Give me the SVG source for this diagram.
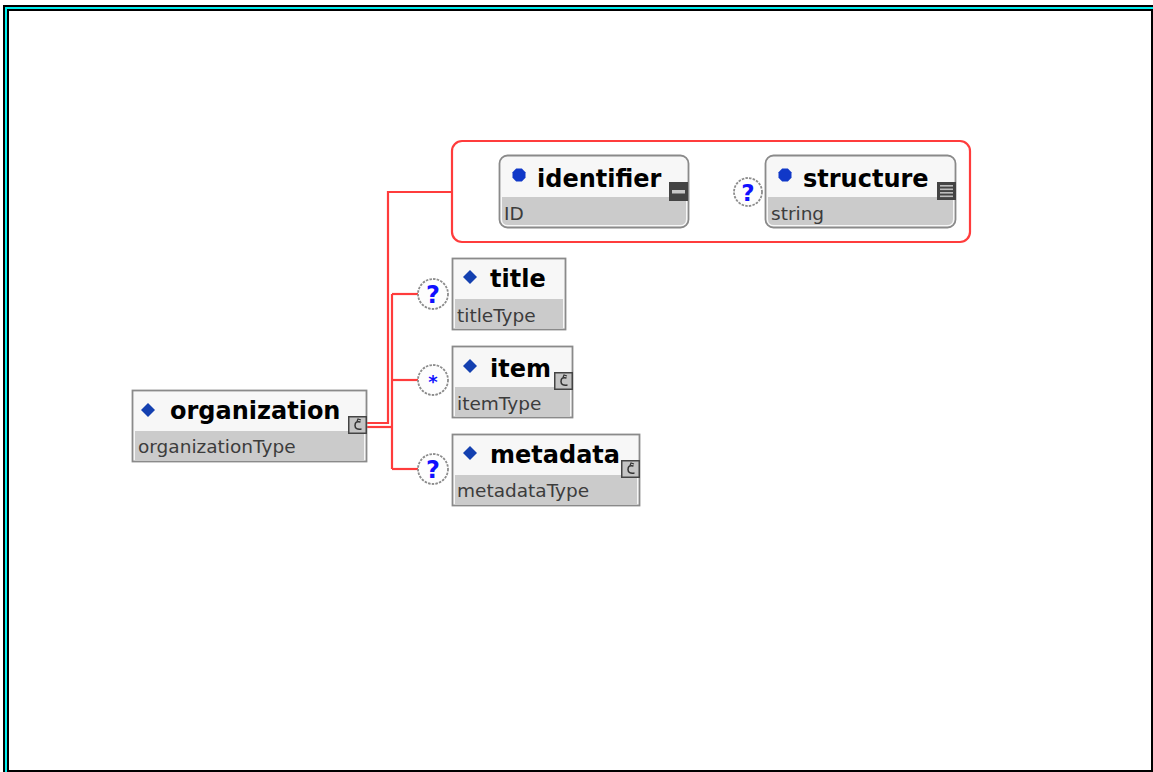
<svg xmlns="http://www.w3.org/2000/svg" xmlns:xlink="http://www.w3.org/1999/xlink" width="1153" height="772" viewBox="0 0 1153 772">
<style>
.box{fill:#f7f7f7;stroke:#8a8a8a;stroke-width:1.8}
.band{fill:#cbcbcb}
.name{font-family:"DejaVu Sans",sans-serif;font-weight:bold;font-size:24px;fill:#000}
.type{font-family:"DejaVu Sans",sans-serif;font-size:18.5px;fill:#3c3c3c}
.conn{fill:none;stroke:#ff3c3c;stroke-width:2.2}
.occ{fill:#fdfdfd;stroke:#8c8c8c;stroke-width:1.8;stroke-dasharray:2.5 1.2}
.occt{font-family:"DejaVu Sans",sans-serif;font-weight:bold;fill:#1010ff;text-anchor:middle}
</style>
<defs>
  <g id="cplx">
    <rect x="0.75" y="0.75" width="17.5" height="16.5" fill="#c4c4c4" stroke="#444" stroke-width="1.5"/>
    <path d="M12.5 6 Q7 4.5 7 9.5 Q7 14 13.5 13" fill="none" stroke="#333" stroke-width="1.5"/>
    <path d="M9 5.5 L10 3 L13 4" fill="none" stroke="#333" stroke-width="1.2"/>
  </g>
  <g id="simpleID">
    <rect x="0" y="0" width="19" height="19" fill="#444"/>
    <rect x="3" y="8" width="13" height="3.5" fill="#c8c8c8"/>
  </g>
  <g id="simpleStr">
    <rect x="0" y="0" width="19" height="18" fill="#444"/>
    <rect x="3" y="3" width="13" height="1.6" fill="#bdbdbd"/>
    <rect x="3" y="6.5" width="13" height="1.6" fill="#bdbdbd"/>
    <rect x="3" y="10" width="13" height="1.6" fill="#bdbdbd"/>
    <rect x="3" y="13.5" width="13" height="1.6" fill="#bdbdbd"/>
  </g>
  <polygon id="diamond" points="0,-7 7,0 0,7 -7,0" fill="#1440b0"/>
  <polygon id="dot" points="-2.8,-6.5 2.8,-6.5 6.5,-2.8 6.5,2.8 2.8,6.5 -2.8,6.5 -6.5,2.8 -6.5,-2.8" fill="#1038c8"/>
</defs>
<rect x="0" y="0" width="1153" height="772" fill="#fff"/>
<g id="frame" fill="none">
  <path d="M4 772 V6 H1153" stroke="#000" stroke-width="2"/>
  <path d="M6 772 V8 H1153" stroke="#00f0f0" stroke-width="2"/>
  <rect x="8" y="10" width="1144" height="761" stroke="#000" stroke-width="2"/>
</g>
<g id="connectors">
  <path class="conn" d="M367 423 H388 V192 H452"/>
  <path class="conn" d="M367 427 H392"/>
  <path class="conn" d="M392 294 V469"/>
  <path class="conn" d="M392 294 H418"/>
  <path class="conn" d="M392 380 H418"/>
  <path class="conn" d="M392 469 H418"/>
  <rect class="conn" x="452" y="141" width="518" height="101" rx="10" ry="10"/>
</g>
<g id="organization">
  <rect class="box" x="132.5" y="390.5" width="234" height="71"/>
  <rect class="band" x="135" y="431" width="229" height="29"/>
  <use xlink:href="#diamond" x="148" y="410"/>
  <text class="name" x="170" y="419">organization</text>
  <text class="type" x="138" y="453">organizationType</text>
  <use xlink:href="#cplx" x="348" y="416"/>
</g>
<g id="identifier">
  <rect class="box" x="499.5" y="155.5" width="189" height="72" rx="8" ry="8"/>
  <path class="band" d="M502 197 H686 V219 Q686 225 680 225 H508 Q502 225 502 219 Z"/>
  <use xlink:href="#dot" x="519" y="175"/>
  <text class="name" x="537" y="187">identifier</text>
  <text class="type" x="504" y="220">ID</text>
  <use xlink:href="#simpleID" x="669" y="182"/>
</g>
<g id="structure-occ">
  <circle class="occ" cx="748" cy="192" r="14"/>
  <text class="occt" x="748" y="201" font-size="23">?</text>
</g>
<g id="structure">
  <rect class="box" x="765.5" y="155.5" width="190" height="72" rx="8" ry="8"/>
  <path class="band" d="M768 197 H953 V219 Q953 225 947 225 H774 Q768 225 768 219 Z"/>
  <use xlink:href="#dot" x="785" y="175"/>
  <text class="name" x="803" y="187">structure</text>
  <text class="type" x="771" y="220">string</text>
  <use xlink:href="#simpleStr" x="937" y="182"/>
</g>
<g id="title-occ">
  <circle class="occ" cx="433" cy="294" r="15"/>
  <text class="occt" x="433" y="303" font-size="24">?</text>
</g>
<g id="title">
  <rect class="box" x="452.5" y="258.5" width="113" height="71"/>
  <rect class="band" x="455" y="299" width="108" height="29"/>
  <use xlink:href="#diamond" x="470" y="277"/>
  <text class="name" x="490" y="287">title</text>
  <text class="type" x="457" y="322">titleType</text>
</g>
<g id="item-occ">
  <circle class="occ" cx="433" cy="380" r="15"/>
  <text class="occt" x="433" y="388" font-size="18">*</text>
</g>
<g id="item">
  <rect class="box" x="452.5" y="346.5" width="120" height="71"/>
  <rect class="band" x="455" y="387" width="115" height="29"/>
  <use xlink:href="#diamond" x="470" y="366"/>
  <text class="name" x="490" y="377">item</text>
  <text class="type" x="457" y="410">itemType</text>
  <use xlink:href="#cplx" x="554" y="372"/>
</g>
<g id="metadata-occ">
  <circle class="occ" cx="433" cy="469" r="15"/>
  <text class="occt" x="433" y="478" font-size="24">?</text>
</g>
<g id="metadata">
  <rect class="box" x="452.5" y="434.5" width="187" height="71"/>
  <rect class="band" x="455" y="475" width="182" height="29"/>
  <use xlink:href="#diamond" x="470" y="453"/>
  <text class="name" x="490" y="463">metadata</text>
  <text class="type" x="457" y="497">metadataType</text>
  <use xlink:href="#cplx" x="621" y="460"/>
</g>
</svg>
